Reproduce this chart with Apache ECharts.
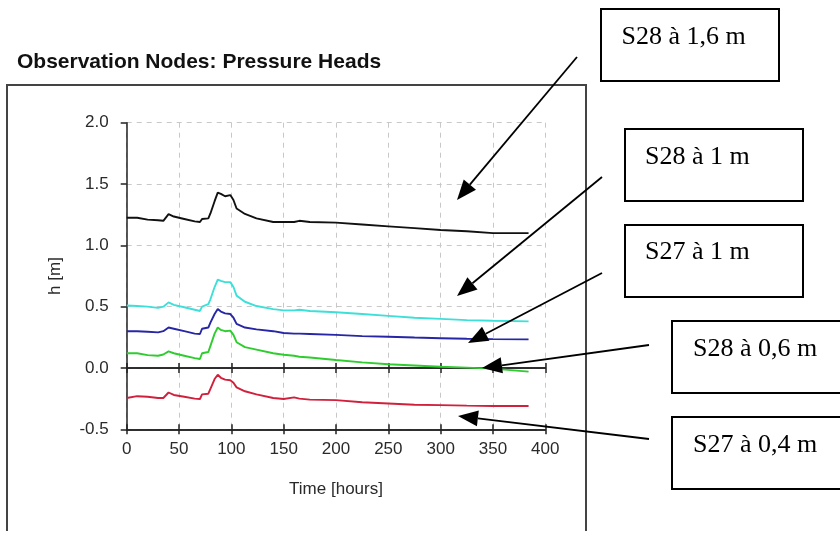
<!DOCTYPE html>
<html>
<head>
<meta charset="utf-8">
<script src="https://cdn.jsdelivr.net/npm/echarts@6/dist/echarts.min.js"></script>
<style>
html,body{margin:0;padding:0;background:#fff;}
#chart{width:840px;height:535px;}
</style>
</head>
<body>
<div id="chart"></div>
<script>
// ---- data ----
const titleText = 'Observation Nodes: Pressure Heads';
const xAxisName = 'Time [hours]';
const yAxisName = 'h [m]';
const xTicks = [0, 50, 100, 150, 200, 250, 300, 350, 400];
const yTicks = [-0.5, 0.0, 0.5, 1.0, 1.5, 2.0];

const hours = [0, 10, 20, 30, 35, 40, 45, 55, 65, 70, 72, 78, 80, 84, 87, 90, 94, 99, 102, 105, 113, 124, 140, 150, 160, 165, 175, 200, 225, 250, 275, 300, 325, 350, 384];

const s28_16 = [1.225, 1.225, 1.21, 1.205, 1.20, 1.255, 1.235, 1.215, 1.195, 1.19, 1.215, 1.22, 1.26, 1.36, 1.43, 1.42, 1.40, 1.41, 1.37, 1.30, 1.256, 1.22, 1.19, 1.19, 1.19, 1.20, 1.19, 1.185, 1.17, 1.155, 1.14, 1.125, 1.115, 1.10, 1.10];
const s28_10 = [0.51, 0.505, 0.50, 0.49, 0.50, 0.535, 0.515, 0.495, 0.475, 0.465, 0.50, 0.52, 0.56, 0.66, 0.72, 0.71, 0.70, 0.70, 0.66, 0.59, 0.54, 0.505, 0.48, 0.47, 0.47, 0.475, 0.465, 0.455, 0.44, 0.425, 0.41, 0.40, 0.39, 0.385, 0.38];
const s27_10 = [0.30, 0.30, 0.295, 0.29, 0.30, 0.33, 0.32, 0.30, 0.28, 0.277, 0.32, 0.33, 0.37, 0.44, 0.48, 0.46, 0.445, 0.44, 0.41, 0.36, 0.33, 0.315, 0.30, 0.285, 0.28, 0.28, 0.277, 0.27, 0.26, 0.255, 0.248, 0.243, 0.238, 0.235, 0.233];
const s28_06 = [0.12, 0.12, 0.105, 0.10, 0.11, 0.135, 0.12, 0.10, 0.08, 0.073, 0.12, 0.13, 0.18, 0.28, 0.33, 0.31, 0.30, 0.305, 0.27, 0.21, 0.17, 0.15, 0.12, 0.108, 0.10, 0.092, 0.085, 0.065, 0.046, 0.03, 0.02, 0.01, 0.003, -0.005, -0.03];
const s27_04 = [-0.245, -0.23, -0.235, -0.245, -0.245, -0.20, -0.22, -0.235, -0.25, -0.253, -0.215, -0.21, -0.17, -0.09, -0.055, -0.08, -0.095, -0.10, -0.12, -0.158, -0.19, -0.215, -0.245, -0.253, -0.24, -0.25, -0.258, -0.262, -0.28, -0.29, -0.30, -0.303, -0.307, -0.31, -0.31];

const seriesNames = ['S28 à 1,6 m', 'S28 à 1 m', 'S27 à 1 m', 'S28 à 0,6 m', 'S27 à 0,4 m'];
const seriesValues = [s28_16, s28_10, s27_10, s28_06, s27_04];
const seriesColors = ['#111111', '#3de0d8', '#2626a6', '#2ecc2e', '#d0203c'];

// ---- chart ----
const chart = echarts.init(document.getElementById('chart'), null, {renderer: 'canvas'});

const FONT = '"Liberation Sans", Arial, sans-serif';
const SERIF = '"Liberation Serif", "Times New Roman", serif';

function pairs(vals) { return hours.map((h, i) => [h, vals[i]]); }

const xMin = xTicks[0], xMax = xTicks[xTicks.length - 1], xInt = xTicks[1] - xTicks[0];
const yMin = yTicks[0], yMax = yTicks[yTicks.length - 1], yInt = yTicks[1] - yTicks[0];

function xAxisDef(opts) {
  return Object.assign({
    type: 'value', min: xMin, max: xMax, interval: xInt,
    axisLine: {show: true, onZero: false, lineStyle: {color: '#222', width: 1.5}},
    axisTick: {show: true, inside: false, length: 5, lineStyle: {color: '#222', width: 1.5}},
    axisLabel: {show: false},
    splitLine: {show: false}
  }, opts);
}

const xAxes = [
  xAxisDef({
    position: 'bottom',
    name: xAxisName, nameLocation: 'middle', nameGap: 52,
    nameTextStyle: {fontFamily: FONT, fontSize: 17, color: '#2a2a2a'},
    axisLabel: {show: true, margin: 12, fontFamily: FONT, fontSize: 17, color: '#2a2a2a'},
    splitLine: {show: true, lineStyle: {color: '#c8c8c8', type: [5, 5], width: 1}}
  }),
  xAxisDef({position: 'bottom', axisTick: {show: true, inside: true, length: 5, lineStyle: {color: '#222', width: 1.5}}}),
  xAxisDef({position: 'bottom', axisLine: {show: true, onZero: true, onZeroAxisIndex: 0, lineStyle: {color: '#222', width: 1.5}}}),
  xAxisDef({position: 'bottom', axisLine: {show: true, onZero: true, onZeroAxisIndex: 0, lineStyle: {color: '#222', width: 1.5}},
            axisTick: {show: true, inside: true, length: 5, lineStyle: {color: '#222', width: 1.5}}})
];

function arrow(x1, y1, x2, y2) {
  const dx = x2 - x1, dy = y2 - y1;
  const len = Math.sqrt(dx * dx + dy * dy);
  const ux = dx / len, uy = dy / len;
  const hl = 20, hw = 8;
  const bx = x2 - ux * hl, by = y2 - uy * hl;
  const px = -uy, py = ux;
  return [
    {type: 'line', shape: {x1: x1, y1: y1, x2: bx, y2: by}, style: {stroke: '#000', lineWidth: 1.8}, z: 100},
    {type: 'polygon', shape: {points: [[x2, y2], [bx + px * hw, by + py * hw], [bx - px * hw, by - py * hw]]},
     style: {fill: '#000', stroke: null}, z: 100}
  ];
}

function labelBox(x, y, w, h, tx, ty, text) {
  return [
    {type: 'rect', shape: {x: x, y: y, width: w, height: h}, style: {fill: '#fff', stroke: '#000', lineWidth: 2}, z: 100},
    {type: 'text', x: tx, y: ty, style: {text: text, font: '26px ' + SERIF, fill: '#000', verticalAlign: 'middle', align: 'left'}, z: 101}
  ];
}

const graphics = [].concat(
  // chart panel frame
  [{type: 'polyline', shape: {points: [[7, 531], [7, 85], [586, 85], [586, 531]]}, style: {stroke: '#444', lineWidth: 2, fill: null}, z: 50}],
  labelBox(601, 9, 178, 72, 621.5, 37, seriesNames[0]),
  labelBox(625, 129, 178, 72, 645, 157, seriesNames[1]),
  labelBox(625, 225, 178, 72, 645, 252, seriesNames[2]),
  labelBox(672, 321, 180, 72, 693, 349, seriesNames[3]),
  labelBox(672, 417, 180, 72, 693, 445, seriesNames[4]),
  arrow(577, 57, 457, 200),
  arrow(602, 177, 457, 296),
  arrow(602, 273, 468, 343),
  arrow(649, 345, 482, 368),
  arrow(649, 439, 458, 416)
);

const option = {
  backgroundColor: '#fff',
  animation: false,
  title: {
    text: titleText, left: 17, top: 52, padding: 0,
    textStyle: {fontFamily: FONT, fontSize: 21, fontWeight: 'bold', color: '#111'}
  },
  grid: {left: 126.7, right: 294.7, top: 122.7, bottom: 105.7, containLabel: false},
  xAxis: xAxes,
  yAxis: {
    type: 'value', min: yMin, max: yMax, interval: yInt,
    name: yAxisName, nameLocation: 'middle', nameGap: 63, nameRotate: 90,
    nameTextStyle: {fontFamily: FONT, fontSize: 17, color: '#2a2a2a'},
    axisLine: {show: true, onZero: false, lineStyle: {color: '#222', width: 1.5}},
    axisTick: {show: true, inside: false, length: 6, lineStyle: {color: '#222', width: 1.5}},
    axisLabel: {show: true, margin: 18, fontFamily: FONT, fontSize: 17, color: '#2a2a2a',
                formatter: v => v.toFixed(1)},
    splitLine: {show: true, lineStyle: {color: '#c8c8c8', type: [5, 5], width: 1}}
  },
  series: seriesValues.map((vals, i) => ({
    name: seriesNames[i], type: 'line', xAxisIndex: 0, yAxisIndex: 0,
    data: pairs(vals), showSymbol: false, symbol: 'none',
    lineStyle: {color: seriesColors[i], width: 1.9},
    z: 10
  })),
  graphic: graphics
};
chart.setOption(option);
</script>
</body>
</html>
